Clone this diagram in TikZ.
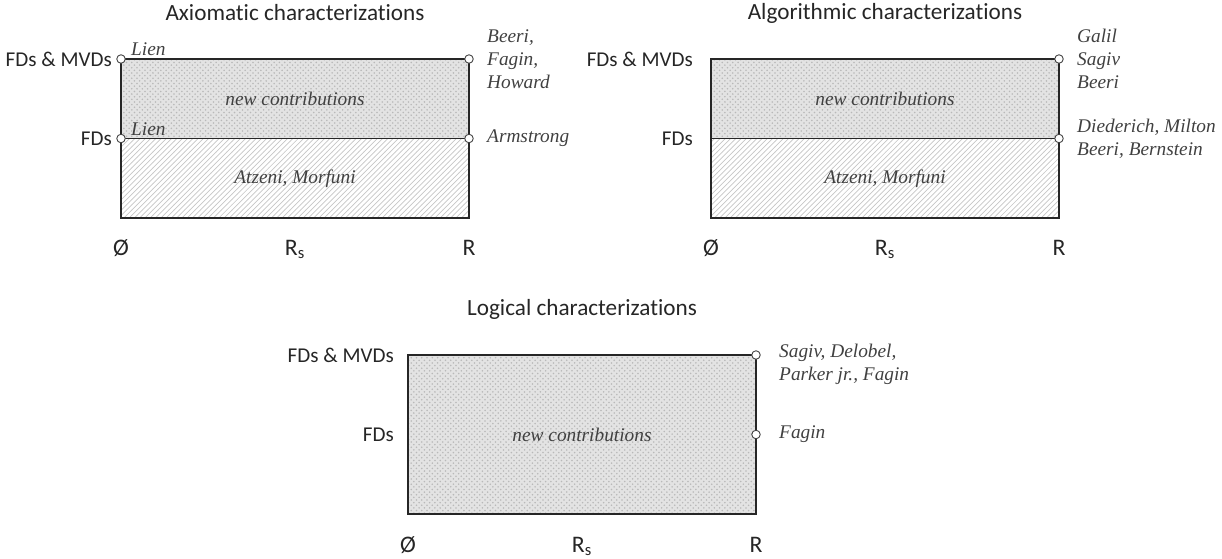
\documentclass[tikz,border=0pt]{standalone}
\usepackage{fontspec}
\setmainfont{Carlito}[Ligatures = NoCommon]
\newfontfamily\refs{Liberation Serif}
\usetikzlibrary{patterns}

\begin{document}
\begin{tikzpicture}[
	frame/.style = {draw = black!85, line width = 0.85pt},
	upper/.style = {preaction = {fill = gray!22}, pattern = crosshatch dots, pattern color = gray!55},
	lower/.style = {pattern = north east lines, pattern color = gray!45},
	joint/.style = {circle, draw = black!75, fill = white, line width = 0.5pt, inner sep = 0pt, minimum size = 0.17cm},
	cite/.style = {font = \refs\itshape\fontsize{11}{13}\selectfont, text = black!75, align = left},
	level/.style = {font = \fontsize{12}{14}\selectfont, text = black!85, anchor = east},
	axis/.style = {font = \fontsize{13.5}{15}\selectfont, text = black!85, anchor = base},
	heading/.style = {font = \fontsize{13.2}{15}\selectfont, text = black!85}
]

	\useasboundingbox (0, 0) rectangle (24.44, 11.16);

	% Axiomatic characterizations

	\begin{scope}[shift = {(2.42, 6.80)}]

		\fill [lower] (0, 0) rectangle (6.96, 1.59);
		\fill [upper] (0, 1.59) rectangle (6.96, 3.18);
		\draw [frame] (0, 0) rectangle (6.96, 3.18);
		\draw [frame] (0, 1.59) -- (6.96, 1.59);

		\node [heading] (ax-title) at (3.48, 4.1) {Axiomatic characterizations};

		\node [level] (ax-both) at (-0.06, 3.18) {FDs \& MVDs};
		\node [level] (ax-fds) at (-0.06, 1.59) {FDs};

		\node [joint] (ax-tl) at (0, 3.18) {};
		\node [joint] (ax-tr) at (6.96, 3.18) {};
		\node [joint] (ax-ml) at (0, 1.59) {};
		\node [joint] (ax-mr) at (6.96, 1.59) {};

		\node [cite, anchor = south west] (ax-lien1) at (0.08, 3.12) {Lien};
		\node [cite, anchor = south west] (ax-lien2) at (0.08, 1.53) {Lien};
		\node [cite, anchor = west] (ax-beeri) at (7.2, 3.18) {Beeri,\\Fagin,\\Howard};
		\node [cite, anchor = west] (ax-arm) at (7.2, 1.59) {Armstrong};

		\node [cite] (ax-new) at (3.48, 2.39) {new contributions};
		\node [cite] (ax-old) at (3.48, 0.78) {Atzeni, Morfuni};

		\node [axis] (ax-empty) at (0, -0.74) {Ø};
		\node [axis] (ax-rs) at (3.48, -0.74) {R\textsubscript{s}};
		\node [axis] (ax-r) at (6.96, -0.74) {R};

	\end{scope}

	% Algorithmic characterizations

	\begin{scope}[shift = {(14.22, 6.80)}]

		\fill [lower] (0, 0) rectangle (6.96, 1.59);
		\fill [upper] (0, 1.59) rectangle (6.96, 3.18);
		\draw [frame] (0, 0) rectangle (6.96, 3.18);
		\draw [frame] (0, 1.59) -- (6.96, 1.59);

		\node [heading] (al-title) at (3.48, 4.1) {Algorithmic characterizations};

		\node [level] (al-both) at (-0.24, 3.18) {FDs \& MVDs};
		\node [level] (al-fds) at (-0.24, 1.59) {FDs};

		\node [joint] (al-tr) at (6.96, 3.18) {};
		\node [joint] (al-mr) at (6.96, 1.59) {};

		\node [cite, anchor = west] (al-galil) at (7.2, 3.18) {Galil\\Sagiv\\Beeri};
		\node [cite, anchor = west] (al-died) at (7.2, 1.59) {Diederich, Milton\\Beeri, Bernstein};

		\node [cite] (al-new) at (3.48, 2.39) {new contributions};
		\node [cite] (al-old) at (3.48, 0.78) {Atzeni, Morfuni};

		\node [axis] (al-empty) at (0, -0.74) {Ø};
		\node [axis] (al-rs) at (3.48, -0.74) {R\textsubscript{s}};
		\node [axis] (al-r) at (6.96, -0.74) {R};

	\end{scope}

	% Logical characterizations

	\begin{scope}[shift = {(8.16, 0.88)}]

		\fill [upper] (0, 0) rectangle (6.96, 3.18);
		\draw [frame] (0, 0) rectangle (6.96, 3.18);

		\node [heading] (lo-title) at (3.48, 4.1) {Logical characterizations};

		\node [level] (lo-both) at (-0.16, 3.18) {FDs \& MVDs};
		\node [level] (lo-fds) at (-0.16, 1.59) {FDs};

		\node [joint] (lo-tr) at (6.96, 3.18) {};
		\node [joint] (lo-mr) at (6.96, 1.59) {};

		\node [cite, anchor = west] (lo-sagiv) at (7.3, 3.0) {Sagiv, Delobel,\\Parker jr., Fagin};
		\node [cite, anchor = west] (lo-fagin) at (7.3, 1.59) {Fagin};

		\node [cite] (lo-new) at (3.48, 1.59) {new contributions};

		\node [axis] (lo-empty) at (0, -0.76) {Ø};
		\node [axis] (lo-rs) at (3.48, -0.76) {R\textsubscript{s}};
		\node [axis] (lo-r) at (6.96, -0.76) {R};

	\end{scope}

\end{tikzpicture}
\end{document}
